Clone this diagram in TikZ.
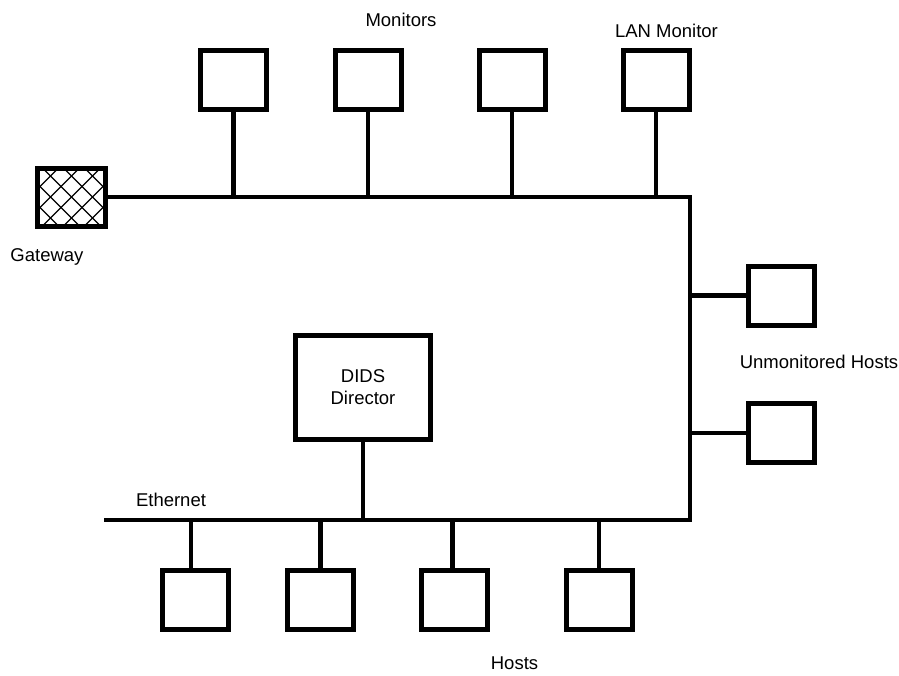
\documentclass[tikz,border=0pt]{standalone}
\usepackage{fontspec}
\setmainfont{Liberation Sans}
\usetikzlibrary{positioning}

\begin{document}
\begin{tikzpicture}[x=1pt, y=-1pt]

\tikzstyle{box} = [rectangle, draw=black, fill=white, line width=5pt, minimum width=66pt, minimum height=59pt, inner sep=0pt]
\tikzstyle{bigbox} = [box, minimum width=135pt, minimum height=104pt, align=center, font=\fontsize{18.5}{22}\selectfont]
\tikzstyle{wire} = [line width=4.5pt]
\tikzstyle{hatch} = [line width=1.4pt]
\tikzstyle{label} = [font=\fontsize{18.5}{22}\selectfont, inner sep=0pt]

\useasboundingbox (0,0) rectangle (899,675);

% Bus corners
\coordinate (topright) at (690,197);
\coordinate (botright) at (690,520);
\coordinate (ethend) at (104,520);

% Gateway
\node[box, minimum width=68pt, minimum height=58pt] (gw) at (71.5,197) {};
\begin{scope}
\clip (40,170.5) rectangle (103,223.5);
\foreach \k in {-4,...,4} {
  \draw[hatch] ({71.5+21*\k-40},157) -- ++(80,80);
  \draw[hatch] ({71.5+21*\k+40},157) -- ++(-80,80);
}
\end{scope}
\node[label] (gwlabel) at (47,257) {Gateway};

% Monitors
\node[box] (mon1) at (233.5,80) {};
\node[box] (mon2) at (368,80) {};
\node[box] (mon3) at (512,80) {};
\node[box] (lan) at (656,80) {};
\node[label] (monlabel) at (401,20) {Monitors};
\node[label] (lanlabel) at (666.5,31) {LAN Monitor};

% Network
\draw[wire] (gw.east) -- (topright) -- (botright) -- (ethend);
\draw[wire] (mon1) -- (mon1 |- topright);
\draw[wire] (mon2) -- (mon2 |- topright);
\draw[wire] (mon3) -- (mon3 |- topright);
\draw[wire] (lan) -- (lan |- topright);

% Unmonitored hosts
\node[box] (um1) at (781,295.5) {};
\node[box] (um2) at (781,433) {};
\node[label] (umlabel) at (819,362) {Unmonitored Hosts};
\draw[wire] (um1) -- (um1 -| topright);
\draw[wire] (um2) -- (um2 -| topright);

% Director
\node[bigbox] (dids) at (363,387.5) {DIDS\\Director};
\draw[wire] (dids) -- (dids |- ethend);
\node[label] (ethlabel) at (171,500) {Ethernet};

% Hosts
\node[box] (host1) at (195,599.5) {};
\node[box] (host2) at (320.5,599.5) {};
\node[box] (host3) at (454.5,599.5) {};
\node[box] (host4) at (599,599.5) {};
\node[label] (hostlabel) at (514.5,663.5) {Hosts};
\draw[wire] ([xshift=-4pt]host1.north) -- ([xshift=-4pt]host1.north |- ethend);
\draw[wire] (host2) -- (host2 |- ethend);
\draw[wire] ([xshift=-2pt]host3.north) -- ([xshift=-2pt]host3.north |- ethend);
\draw[wire] (host4) -- (host4 |- ethend);

\end{tikzpicture}
\end{document}
